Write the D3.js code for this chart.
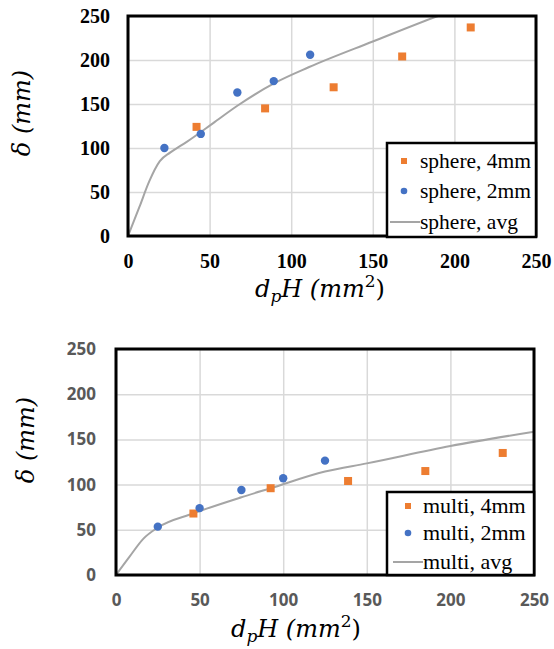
<!DOCTYPE html>
<html>
<head>
<meta charset="utf-8">
<script src="https://cdn.jsdelivr.net/npm/d3@7"></script>
<style>
  body { margin: 0; background: #fff; }
  svg { display: block; }
</style>
</head>
<body>
<svg id="chart" width="554" height="649"></svg>
<script>
// ---- data ----
var xTicks = [0, 50, 100, 150, 200, 250];
var yTicks = [0, 50, 100, 150, 200, 250];

var sphere4X = [42, 84, 126, 168, 210];
var sphere4Y = [124, 145, 169, 204, 237];
var sphere2X = [22.3, 44.6, 67, 89.3, 111.6];
var sphere2Y = [100, 116, 163, 176, 206];
var sphereAvgX = [0, 7, 13, 19.5, 26, 36, 52, 67, 90, 111, 150, 190, 215];
var sphereAvgY = [0, 33, 62, 85, 95, 107, 128, 148, 174, 192, 221, 250, 266];

var multi4X = [46.3, 92.5, 138.8, 185, 231.3];
var multi4Y = [68, 96, 104, 115, 135];
var multi2X = [25, 50, 75, 100, 125];
var multi2Y = [53.5, 74, 94, 107, 126.5];
var multiAvgX = [0, 8, 16.3, 25, 46, 75, 92.5, 125, 150, 200, 250];
var multiAvgY = [0, 20, 40, 52.5, 68, 86, 96, 114.5, 123.5, 142.7, 158.5];

var ORANGE = '#ed7d31', BLUE = '#4472c4', GREY = '#a5a5a5';

function zip(xs, ys) {
    return xs.map(function (x, i) { return [x, ys[i]]; });
}

var svg = d3.select('#chart');

function drawChart(cfg) {
    var x = d3.scaleLinear().domain([0, 250]).range([cfg.left, cfg.right]);
    var y = d3.scaleLinear().domain([0, 250]).range([cfg.bottom, cfg.top]);
    var g = svg.append('g');

    // clip for the average line
    var clipId = 'clip' + cfg.id;
    g.append('clipPath').attr('id', clipId)
        .append('rect')
        .attr('x', cfg.left).attr('y', cfg.top)
        .attr('width', cfg.right - cfg.left).attr('height', cfg.bottom - cfg.top);

    // gridlines
    g.append('g')
        .attr('transform', 'translate(0,' + cfg.bottom + ')')
        .call(d3.axisBottom(x).tickValues(xTicks).tickSize(-(cfg.bottom - cfg.top)).tickFormat(''))
        .call(function (s) { s.select('.domain').remove(); })
        .selectAll('line').attr('stroke', '#d9d9d9').attr('stroke-width', 1.5);
    g.append('g')
        .attr('transform', 'translate(' + cfg.left + ',0)')
        .call(d3.axisLeft(y).tickValues(yTicks).tickSize(-(cfg.right - cfg.left)).tickFormat(''))
        .call(function (s) { s.select('.domain').remove(); })
        .selectAll('line').attr('stroke', '#d9d9d9').attr('stroke-width', 1.5);

    // tick labels
    var ax = g.append('g')
        .attr('transform', 'translate(0,' + cfg.bottom + ')')
        .call(d3.axisBottom(x).tickValues(xTicks).tickSize(0).tickPadding(cfg.xPad));
    var ay = g.append('g')
        .attr('transform', 'translate(' + cfg.left + ',0)')
        .call(d3.axisLeft(y).tickValues(yTicks).tickSize(0).tickPadding(cfg.yPad));
    [ax, ay].forEach(function (a) {
        a.select('.domain').remove();
        a.selectAll('text')
            .attr('font-family', cfg.tickFont)
            .attr('font-weight', 'bold')
            .attr('font-size', cfg.tickSize)
            .attr('fill', cfg.tickColor);
    });

    // avg line
    var line = d3.line()
        .x(function (d) { return x(d[0]); })
        .y(function (d) { return y(d[1]); })
        .curve(d3.curveMonotoneX);
    g.append('path')
        .datum(zip(cfg.avgX, cfg.avgY))
        .attr('clip-path', 'url(#' + clipId + ')')
        .attr('d', line)
        .attr('fill', 'none')
        .attr('stroke', GREY)
        .attr('stroke-width', 2);

    // 4mm squares
    g.selectAll('rect.sq')
        .data(zip(cfg.x4, cfg.y4))
        .enter().append('rect')
        .attr('class', 'sq')
        .attr('x', function (d) { return x(d[0]) - 4; })
        .attr('y', function (d) { return y(d[1]) - 4; })
        .attr('width', 8).attr('height', 8)
        .attr('fill', ORANGE);

    // 2mm circles
    g.selectAll('circle.pt')
        .data(zip(cfg.x2, cfg.y2))
        .enter().append('circle')
        .attr('class', 'pt')
        .attr('cx', function (d) { return x(d[0]); })
        .attr('cy', function (d) { return y(d[1]); })
        .attr('r', 4.2)
        .attr('fill', BLUE);

    // frame
    g.append('rect')
        .attr('x', cfg.left).attr('y', cfg.top)
        .attr('width', cfg.right - cfg.left).attr('height', cfg.bottom - cfg.top)
        .attr('fill', 'none').attr('stroke', '#000').attr('stroke-width', 3);

    // legend
    var lg = cfg.legend;
    g.append('rect')
        .attr('x', lg.x0).attr('y', lg.y0)
        .attr('width', lg.x1 - lg.x0).attr('height', lg.y1 - lg.y0)
        .attr('fill', '#fff').attr('stroke', '#000').attr('stroke-width', 2.5);
    g.append('rect')
        .attr('x', lg.mx - 3).attr('y', lg.rows[0] - 3)
        .attr('width', 6).attr('height', 6).attr('fill', ORANGE);
    g.append('circle')
        .attr('cx', lg.mx).attr('cy', lg.rows[1]).attr('r', 3.3).attr('fill', BLUE);
    g.append('line')
        .attr('x1', lg.lx0).attr('x2', lg.tx)
        .attr('y1', lg.rows[2]).attr('y2', lg.rows[2])
        .attr('stroke', GREY).attr('stroke-width', 2);
    cfg.names.forEach(function (n, i) {
        g.append('text')
            .attr('x', lg.tx).attr('y', lg.rows[i])
            .attr('dy', '0.33em')
            .attr('font-family', 'Liberation Serif, serif')
            .attr('font-size', lg.size)
            .attr('fill', '#000')
            .text(n);
    });

    // x axis title  d_p H (mm^2)
    var xt = g.append('text')
        .attr('x', cfg.xTitle[0]).attr('y', cfg.xTitle[1])
        .attr('font-family', 'DejaVu Serif, serif')
        .attr('font-style', 'italic')
        .attr('font-size', 24)
        .attr('fill', '#000');
    xt.append('tspan').text('d');
    xt.append('tspan').attr('dy', 5).attr('font-size', 17).text('p');
    xt.append('tspan').attr('dy', -5).text('H (mm');
    xt.append('tspan').attr('dy', -10).attr('font-size', 17).attr('font-style', 'normal').text('2');
    xt.append('tspan').attr('dy', 10).attr('font-style', 'normal').text(')');

    // y axis title
    g.append('text')
        .attr('transform', 'translate(' + cfg.yTitle[0] + ',' + cfg.yTitle[1] + ') rotate(-90)')
        .attr('text-anchor', 'middle')
        .attr('dy', '0.33em')
        .attr('font-family', 'DejaVu Serif, serif')
        .attr('font-style', 'italic')
        .attr('font-size', 24)
        .attr('fill', '#000')
        .text('δ (mm)');
}

drawChart({
    id: 'a', left: 128, right: 536, top: 16, bottom: 236,
    x4: sphere4X, y4: sphere4Y, x2: sphere2X, y2: sphere2Y,
    avgX: sphereAvgX, avgY: sphereAvgY,
    tickFont: 'Liberation Serif, serif', tickSize: 20, tickColor: '#000',
    xPad: 18, yPad: 18,
    names: ['sphere, 4mm', 'sphere, 2mm', 'sphere, avg'],
    legend: { x0: 387, x1: 536, y0: 143, y1: 237, rows: [161, 191, 222], mx: 404, lx0: 390, tx: 420, size: 21.5 },
    xTitle: [255, 297], yTitle: [22, 113]
});

drawChart({
    id: 'b', left: 116, right: 534, top: 349, bottom: 575,
    x4: multi4X, y4: multi4Y, x2: multi2X, y2: multi2Y,
    avgX: multiAvgX, avgY: multiAvgY,
    tickFont: 'Open Sans, sans-serif', tickSize: 17, tickColor: '#595959',
    xPad: 19, yPad: 20,
    names: ['multi, 4mm', 'multi, 2mm', 'multi, avg'],
    legend: { x0: 387, x1: 534, y0: 492, y1: 575, rows: [506, 533, 562], mx: 408, lx0: 393, tx: 423, size: 22 },
    xTitle: [231, 637], yTitle: [26, 440]
});
</script>
</body>
</html>
